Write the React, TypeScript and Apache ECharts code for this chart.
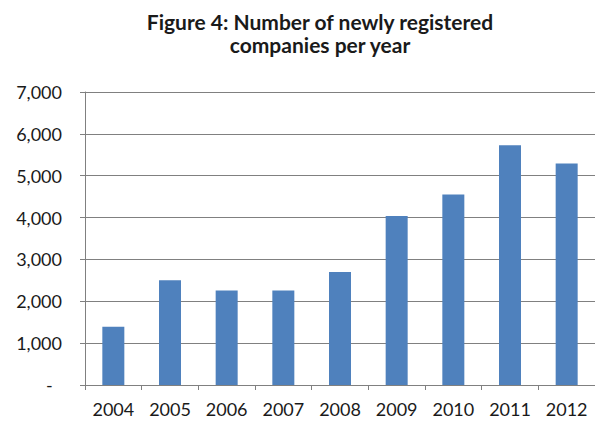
import React, { useEffect, useRef } from "react";
import * as echarts from "echarts";

const categories = ["2004", "2005", "2006", "2007", "2008", "2009", "2010", "2011", "2012"];
const companies = [1390, 2500, 2260, 2260, 2700, 4040, 4550, 5730, 5290];
const titleLines = ["Figure 4: Number of newly registered", "companies per year"];

export default function App() {
  const ref = useRef<HTMLDivElement>(null);
  useEffect(() => {
    const chart = echarts.init(ref.current!, null, { renderer: "svg" });
    chart.setOption({
      animation: false,
      backgroundColor: "#ffffff",
      title: {
        text: titleLines.join("\n"),
        left: 315,
        top: 5,
        textAlign: "center",
        textStyle: {
          fontFamily: "Lato",
          fontWeight: "bold",
          fontSize: 21,
          lineHeight: 23,
          color: "#1a1a1a",
        },
      },
      grid: { left: 85, right: -3, top: 92, bottom: 38 },
      xAxis: {
        type: "category",
        data: categories,
        axisLine: { lineStyle: { color: "#808080", width: 1 } },
        axisTick: { show: true, length: 5, alignWithLabel: false, lineStyle: { color: "#808080" } },
        axisLabel: { fontFamily: "Lato", fontSize: 18, color: "#1a1a1a", margin: 15 },
      },
      yAxis: {
        type: "value",
        min: 0,
        max: 7000,
        interval: 1000,
        axisLine: { show: true, lineStyle: { color: "#808080", width: 1 } },
        axisTick: { show: true, length: 5, lineStyle: { color: "#808080" } },
        splitLine: { lineStyle: { color: "#808080", width: 1 } },
        axisLabel: {
          fontFamily: "Lato",
          fontSize: 18,
          color: "#1a1a1a",
          margin: 23,
          formatter: (v: number) => (v === 0 ? "-  " : v.toLocaleString("en-US")),
        },
      },
      series: [
        {
          type: "bar",
          data: companies,
          barWidth: 22,
          itemStyle: { color: "#4F81BD" },
        },
      ],
    });
    return () => chart.dispose();
  }, []);
  return (
    <div
      ref={ref}
      style={{ position: "absolute", left: 0, top: 0, width: 595, height: 423 }}
    />
  );
}
